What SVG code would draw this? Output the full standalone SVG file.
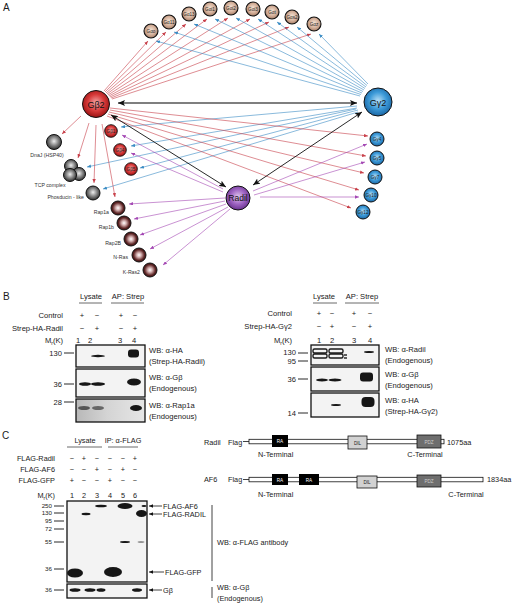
<svg xmlns="http://www.w3.org/2000/svg" width="514" height="605" viewBox="0 0 514 605">
<style>
text{font-family:"Liberation Sans",Arial,sans-serif;fill:#1a1a1a}
.pl{font-size:10px}
.t8{font-size:7.6px}
.t7{font-size:7.3px}
.mk{font-size:6.2px;text-anchor:end}
.nl{font-size:5.2px;fill:#333}
.in{font-size:4.6px;text-anchor:middle;fill:#222}
.red{stroke:#c8404a;stroke-width:0.6;marker-end:url(#ar)}
.blue{stroke:#3a8cc4;stroke-width:0.6;marker-end:url(#ab)}
.pur{stroke:#a448b4;stroke-width:0.6;marker-end:url(#ap)}
.blk{stroke:#111;stroke-width:0.9;marker-end:url(#ak);marker-start:url(#aks)}
.gry{stroke:#555;stroke-width:1.4;marker-end:url(#ak);marker-start:url(#aks)}
.ul{stroke:#444;stroke-width:0.8}
.tk{stroke:#111;stroke-width:0.9}
.blot{fill:#f3f3f3;stroke:#111;stroke-width:1.3}
.band{fill:#161616;filter:url(#soft)}
.dom{stroke:#111;stroke-width:0.8}
</style>
<defs>
<marker id="ar" markerWidth="4" markerHeight="3.4" refX="4" refY="1.7" orient="auto" markerUnits="userSpaceOnUse"><path d="M0,0L4,1.7L0,3.4z" fill="#c8404a"/></marker>
<marker id="ab" markerWidth="4" markerHeight="3.4" refX="4" refY="1.7" orient="auto" markerUnits="userSpaceOnUse"><path d="M0,0L4,1.7L0,3.4z" fill="#3a8cc4"/></marker>
<marker id="ap" markerWidth="4" markerHeight="3.4" refX="4" refY="1.7" orient="auto" markerUnits="userSpaceOnUse"><path d="M0,0L4,1.7L0,3.4z" fill="#a448b4"/></marker>
<marker id="ak" markerWidth="7" markerHeight="6" refX="7" refY="3" orient="auto" markerUnits="userSpaceOnUse"><path d="M0,0L7,3L0,6L1.5,3z" fill="#111"/></marker>
<marker id="aks" markerWidth="7" markerHeight="6" refX="7" refY="3" orient="auto-start-reverse" markerUnits="userSpaceOnUse"><path d="M0,0L7,3L0,6L1.5,3z" fill="#111"/></marker>
<marker id="ac" markerWidth="4" markerHeight="3.4" refX="4" refY="1.7" orient="auto" markerUnits="userSpaceOnUse"><path d="M0,0L4,1.7L0,3.4z" fill="#111"/></marker>
<radialGradient id="gRed" cx="50%" cy="45%" r="55%"><stop offset="0" stop-color="#f4a8a8"/><stop offset="0.55" stop-color="#d83a3a"/><stop offset="1" stop-color="#9a1212"/></radialGradient>
<radialGradient id="gBlue" cx="50%" cy="45%" r="55%"><stop offset="0" stop-color="#b6def6"/><stop offset="0.55" stop-color="#3c9ad8"/><stop offset="1" stop-color="#1b66a4"/></radialGradient>
<radialGradient id="gPur" cx="50%" cy="45%" r="55%"><stop offset="0" stop-color="#e2c8ee"/><stop offset="0.55" stop-color="#a066c4"/><stop offset="1" stop-color="#6a3390"/></radialGradient>
<radialGradient id="gTan" cx="50%" cy="45%" r="55%"><stop offset="0" stop-color="#f6e6d8"/><stop offset="0.6" stop-color="#d4b09a"/><stop offset="1" stop-color="#a47c66"/></radialGradient>
<radialGradient id="gGray" cx="50%" cy="45%" r="55%"><stop offset="0" stop-color="#eeeeee"/><stop offset="0.5" stop-color="#8a8a8a"/><stop offset="1" stop-color="#2c2c2c"/></radialGradient>
<radialGradient id="gRap" cx="50%" cy="50%" r="55%"><stop offset="0" stop-color="#ffffff"/><stop offset="0.3" stop-color="#d4b0b0"/><stop offset="0.7" stop-color="#5c2424"/><stop offset="1" stop-color="#3a1010"/></radialGradient>
<linearGradient id="gB3" x1="0" x2="1" y1="0" y2="0"><stop offset="0" stop-color="#b8b8b8"/><stop offset="0.45" stop-color="#d4d4d4"/><stop offset="1" stop-color="#e6e6e6"/></linearGradient>
<filter id="soft" x="-30%" y="-60%" width="160%" height="220%"><feGaussianBlur stdDeviation="0.5"/></filter>
</defs>
<rect width="514" height="605" fill="#fff"/>

<text class="pl" x="3" y="11">A</text>

<g id="connectors" fill="none">
<line class="red" x1="104" y1="91" x2="148" y2="41"/>
<line class="red" x1="105" y1="92" x2="166" y2="32"/>
<line class="red" x1="106" y1="93" x2="186" y2="24"/>
<line class="red" x1="107" y1="94" x2="207" y2="19"/>
<line class="red" x1="108" y1="95" x2="228" y2="18"/>
<line class="red" x1="109" y1="96" x2="250" y2="19"/>
<line class="red" x1="110" y1="97" x2="269" y2="22"/>
<line class="red" x1="111" y1="98" x2="289" y2="27"/>
<line class="red" x1="112" y1="99" x2="311" y2="34"/>
<line class="blue" x1="360" y1="96" x2="156" y2="41"/>
<line class="blue" x1="361" y1="94.5" x2="174" y2="32"/>
<line class="blue" x1="362" y1="93" x2="194" y2="24"/>
<line class="blue" x1="363" y1="91.5" x2="215" y2="19"/>
<line class="blue" x1="364" y1="90" x2="236" y2="18"/>
<line class="blue" x1="365" y1="88.5" x2="258" y2="19"/>
<line class="blue" x1="366" y1="87" x2="277" y2="22"/>
<line class="blue" x1="367" y1="85.5" x2="297" y2="27"/>
<line class="blue" x1="368" y1="84" x2="319" y2="34"/>
<line class="blue" x1="357" y1="106" x2="121" y2="127"/>
<line class="blue" x1="357" y1="108" x2="131" y2="146"/>
<line class="blue" x1="358" y1="110" x2="140" y2="168"/>
<line class="blue" x1="356" y1="109" x2="87" y2="167"/>
<line class="blue" x1="358" y1="112" x2="103" y2="189"/>
<line class="red" x1="110" y1="108" x2="368" y2="136"/>
<line class="red" x1="110" y1="110" x2="366" y2="156"/>
<line class="red" x1="109" y1="112" x2="364" y2="173"/>
<line class="red" x1="108" y1="114" x2="359" y2="190"/>
<line class="red" x1="107" y1="116" x2="351" y2="208"/>
<line class="red" x1="81" y1="116" x2="62" y2="134"/>
<line class="red" x1="89" y1="123" x2="78" y2="158"/>
<line class="red" x1="96" y1="125" x2="94" y2="183"/>
<line class="red" x1="102" y1="124" x2="115" y2="197"/>
<line class="pur" x1="223" y1="189" x2="122" y2="135"/>
<line class="pur" x1="223" y1="192" x2="131" y2="153"/>
<line class="pur" x1="225" y1="198" x2="129" y2="204"/>
<line class="pur" x1="225" y1="201" x2="134" y2="219"/>
<line class="pur" x1="226" y1="204" x2="140" y2="235"/>
<line class="pur" x1="228" y1="207" x2="150" y2="249"/>
<line class="pur" x1="230" y1="209" x2="163" y2="265"/>
<line class="pur" x1="253" y1="191" x2="367" y2="144"/>
<line class="pur" x1="254" y1="195" x2="365" y2="162"/>
<line class="pur" x1="260" y1="197" x2="359" y2="197"/>
<line class="gry" x1="118" y1="103" x2="357" y2="103"/>
<line class="blk" x1="111" y1="115" x2="226" y2="187"/>
<line class="blk" x1="253" y1="185" x2="362" y2="112"/>
</g>

<g id="node-Gao"><circle cx="151" cy="31" r="7" fill="url(#gTan)" stroke="#111" stroke-width="1.1"/><text class="in" x="151" y="32.6">Gαo</text></g>
<g id="node-Ga11"><circle cx="169" cy="22" r="7" fill="url(#gTan)" stroke="#111" stroke-width="1.1"/><text class="in" x="169" y="23.6">Gα11</text></g>
<g id="node-Ga13"><circle cx="189" cy="14" r="7" fill="url(#gTan)" stroke="#111" stroke-width="1.1"/><text class="in" x="189" y="15.6">Gα13</text></g>
<g id="node-Gai1"><circle cx="210" cy="9" r="7" fill="url(#gTan)" stroke="#111" stroke-width="1.1"/><text class="in" x="210" y="10.6">Gαi1</text></g>
<g id="node-Gai2"><circle cx="231" cy="8" r="7" fill="url(#gTan)" stroke="#111" stroke-width="1.1"/><text class="in" x="231" y="9.6">Gαi2</text></g>
<g id="node-Gai3"><circle cx="253" cy="9" r="7" fill="url(#gTan)" stroke="#111" stroke-width="1.1"/><text class="in" x="253" y="10.6">Gαi3</text></g>
<g id="node-Gat"><circle cx="272" cy="12" r="7" fill="url(#gTan)" stroke="#111" stroke-width="1.1"/><text class="in" x="272" y="13.6">Gαt</text></g>
<g id="node-Gas2"><circle cx="292" cy="17" r="7" fill="url(#gTan)" stroke="#111" stroke-width="1.1"/><text class="in" x="292" y="18.6">Gαs2</text></g>
<g id="node-Gaz"><circle cx="314" cy="24" r="7" fill="url(#gTan)" stroke="#111" stroke-width="1.1"/><text class="in" x="314" y="25.6">Gαz</text></g>

<g id="node-Gb2"><circle cx="96" cy="104" r="13.5" fill="url(#gRed)" stroke="#111" stroke-width="1"/><text x="96" y="107.5" text-anchor="middle" style="font-size:9px;fill:#111">Gβ2</text></g>
<g id="node-Gg2"><circle cx="378" cy="102" r="14" fill="url(#gBlue)" stroke="#111" stroke-width="1"/><text x="378" y="105.5" text-anchor="middle" style="font-size:9px;fill:#111">Gγ2</text></g>
<g id="node-Radil"><circle cx="238" cy="198" r="12" fill="url(#gPur)" stroke="#111" stroke-width="1"/><text x="238" y="201" text-anchor="middle" style="font-size:8.5px;fill:#111">Radil</text></g>

<g id="node-Gb1"><circle cx="111" cy="131" r="6.3" fill="url(#gRed)" stroke="#111" stroke-width="0.9"/><text class="in" x="111" y="132.6">Gβ1</text></g>
<g id="node-Gb4"><circle cx="120" cy="150" r="6.3" fill="url(#gRed)" stroke="#111" stroke-width="0.9"/><text class="in" x="120" y="151.6">Gβ4</text></g>
<g id="node-Gb5"><circle cx="131" cy="169" r="6.3" fill="url(#gRed)" stroke="#111" stroke-width="0.9"/><text class="in" x="131" y="170.6">Gβ5</text></g>

<g id="node-DnaJ"><circle cx="54" cy="142" r="7.5" fill="url(#gGray)" stroke="#111" stroke-width="1"/><text class="nl" x="47" y="157" text-anchor="middle">DnaJ (HSP40)</text></g>
<g id="node-TCP"><circle cx="71" cy="166" r="6.5" fill="url(#gGray)" stroke="#111" stroke-width="1"/><circle cx="79" cy="174" r="6.5" fill="url(#gGray)" stroke="#111" stroke-width="1"/><circle cx="70" cy="175" r="6.5" fill="url(#gGray)" stroke="#111" stroke-width="1"/><text class="nl" x="50" y="187" text-anchor="middle">TCP complex</text></g>
<g id="node-Phosducin"><circle cx="93" cy="193" r="7" fill="url(#gGray)" stroke="#111" stroke-width="1"/><text class="nl" x="84" y="199" text-anchor="end">Phosducin - like</text></g>

<g id="node-Rap1a"><circle cx="118" cy="208" r="7" fill="url(#gRap)" stroke="#111" stroke-width="1"/><text class="nl" x="109" y="214" text-anchor="end">Rap1a</text></g>
<g id="node-Rap1b"><circle cx="124" cy="223" r="7" fill="url(#gRap)" stroke="#111" stroke-width="1"/><text class="nl" x="114" y="229" text-anchor="end">Rap1b</text></g>
<g id="node-Rap2B"><circle cx="131" cy="239" r="7" fill="url(#gRap)" stroke="#111" stroke-width="1"/><text class="nl" x="121" y="245" text-anchor="end">Rap2B</text></g>
<g id="node-NRas"><circle cx="139" cy="255" r="7" fill="url(#gRap)" stroke="#111" stroke-width="1"/><text class="nl" x="128" y="259" text-anchor="end">N-Ras</text></g>
<g id="node-KRas2"><circle cx="150" cy="270" r="7" fill="url(#gRap)" stroke="#111" stroke-width="1"/><text class="nl" x="140" y="274" text-anchor="end">K-Ras2</text></g>

<g id="node-Gg4"><circle cx="377" cy="139" r="7" fill="url(#gBlue)" stroke="#111" stroke-width="1"/><text class="in" x="377" y="140.6">Gγ4</text></g>
<g id="node-Gg5"><circle cx="377" cy="158" r="7" fill="url(#gBlue)" stroke="#111" stroke-width="1"/><text class="in" x="377" y="159.6">Gγ5</text></g>
<g id="node-Gg7"><circle cx="375" cy="177" r="7" fill="url(#gBlue)" stroke="#111" stroke-width="1"/><text class="in" x="375" y="178.6">Gγ7</text></g>
<g id="node-Gg10"><circle cx="371" cy="195" r="7" fill="url(#gBlue)" stroke="#111" stroke-width="1"/><text class="in" x="371" y="196.6">Gγ10</text></g>
<g id="node-Gg12"><circle cx="363" cy="212" r="7" fill="url(#gBlue)" stroke="#111" stroke-width="1"/><text class="in" x="363" y="213.6">Gγ12</text></g>

<g id="panelB-left">
<text class="pl" x="3" y="300">B</text>
<text class="t8" x="91" y="299" text-anchor="middle">Lysate</text>
<line class="ul" x1="79" y1="303" x2="102" y2="303"/>
<text class="t8" x="128" y="299" text-anchor="middle">AP: Strep</text>
<line class="ul" x1="111" y1="303" x2="144" y2="303"/>
<text class="t8" x="63" y="318" text-anchor="end">Control</text>
<text class="t8" x="63" y="331" text-anchor="end">Strep-HA-Radil</text>
<text class="t8" x="63" y="343" text-anchor="end">M<tspan font-size="5" dy="1.5">r</tspan><tspan dy="-1.5">(K)</tspan></text>
<g class="t8" text-anchor="middle">
<text x="82" y="318">+</text><text x="97" y="318">−</text><text x="121" y="318">+</text><text x="135" y="318">−</text>
<text x="82" y="331">−</text><text x="97" y="331">+</text><text x="121" y="331">−</text><text x="135" y="331">+</text>
<text x="78" y="343">1</text><text x="90" y="343">2</text><text x="120" y="343">3</text><text x="134" y="343">4</text>
</g>
<rect class="blot" x="76" y="345" width="69" height="22"/>
<rect class="blot" x="76" y="369" width="69" height="28"/>
<rect x="76" y="399" width="69" height="23" fill="url(#gB3)" stroke="#111" stroke-width="1.3"/>
<text class="t8" x="62" y="356" text-anchor="end">130</text><line class="tk" x1="64" y1="353" x2="74" y2="353"/>
<text class="t8" x="62" y="387" text-anchor="end">36</text><line class="tk" x1="64" y1="384" x2="74" y2="384"/>
<text class="t8" x="62" y="405" text-anchor="end">28</text><line class="tk" x1="64" y1="402" x2="74" y2="402"/>
<ellipse class="band" cx="98" cy="356" rx="7" ry="1.2"/>
<rect class="band" x="128" y="349.5" width="11" height="8" rx="3"/>
<ellipse class="band" cx="85" cy="384" rx="6" ry="1.7"/>
<ellipse class="band" cx="98" cy="384" rx="7" ry="1.8"/>
<ellipse class="band" cx="134" cy="382" rx="7" ry="3.5"/>
<ellipse cx="84" cy="408" rx="6" ry="2" fill="#555" filter="url(#soft)"/>
<ellipse cx="98" cy="408" rx="6" ry="2" fill="#666" filter="url(#soft)"/>
<ellipse class="band" cx="136" cy="408" rx="6" ry="3"/>
<text class="t8" x="149" y="353">WB: α-HA</text>
<text class="t8" x="149" y="364">(Strep-HA-Radil)</text>
<text class="t8" x="149" y="380">WB: α-Gβ</text>
<text class="t8" x="149" y="391">(Endogenous)</text>
<text class="t8" x="149" y="408">WB: α-Rap1a</text>
<text class="t8" x="149" y="419">(Endogenous)</text>
</g>

<g id="panelB-right">
<text class="t8" x="324" y="299" text-anchor="middle">Lysate</text>
<line class="ul" x1="313" y1="303" x2="337" y2="303"/>
<text class="t8" x="362" y="299" text-anchor="middle">AP: Strep</text>
<line class="ul" x1="345" y1="303" x2="379" y2="303"/>
<text class="t8" x="292" y="316" text-anchor="end">Control</text>
<text class="t8" x="292" y="329" text-anchor="end">Strep-HA-Gγ2</text>
<text class="t8" x="292" y="343" text-anchor="end">M<tspan font-size="5" dy="1.5">r</tspan><tspan dy="-1.5">(K)</tspan></text>
<g class="t8" text-anchor="middle">
<text x="319" y="316">+</text><text x="332" y="316">−</text><text x="354" y="316">+</text><text x="370" y="316">−</text>
<text x="319" y="329">−</text><text x="332" y="329">+</text><text x="354" y="329">−</text><text x="370" y="329">+</text>
<text x="319" y="343">1</text><text x="332" y="343">2</text><text x="354" y="343">3</text><text x="370" y="343">4</text>
</g>
<rect class="blot" x="311" y="345" width="68" height="20"/>
<rect class="blot" x="311" y="367" width="68" height="24"/>
<rect class="blot" x="311" y="393" width="68" height="24"/>
<text class="t8" x="296" y="355" text-anchor="end">130</text><line class="tk" x1="298" y1="353" x2="308" y2="353"/>
<text class="t8" x="296" y="364" text-anchor="end">95</text><line class="tk" x1="298" y1="361" x2="308" y2="361"/>
<text class="t8" x="296" y="382" text-anchor="end">36</text><line class="tk" x1="298" y1="379" x2="308" y2="379"/>
<text class="t8" x="296" y="416" text-anchor="end">14</text><line class="tk" x1="298" y1="413" x2="308" y2="413"/>
<g fill="none" stroke="#1a1a1a" stroke-width="1.4" filter="url(#soft)">
<rect x="313" y="349" width="14" height="4" rx="1.5"/>
<rect x="313" y="354" width="14" height="4" rx="1.5"/>
<rect x="329" y="349" width="14" height="4" rx="1.5"/>
<rect x="329" y="354" width="14" height="4" rx="1.5"/>
<line x1="344" y1="355" x2="347" y2="355"/><line x1="344" y1="358" x2="347" y2="358"/>
</g>
<ellipse class="band" cx="369" cy="352" rx="5" ry="1"/>
<ellipse class="band" cx="322" cy="380" rx="6" ry="1.4"/>
<ellipse class="band" cx="335" cy="380" rx="6.5" ry="1.5"/>
<rect class="band" x="360" y="372.5" width="13" height="9" rx="3"/>
<ellipse class="band" cx="336" cy="405" rx="5" ry="1.1"/>
<rect class="band" x="361.5" y="397" width="13" height="10" rx="4"/>
<text class="t8" x="385" y="352">WB: α-Radil</text>
<text class="t8" x="385" y="363">(Endogenous)</text>
<text class="t8" x="385" y="377">WB: α-Gβ</text>
<text class="t8" x="385" y="388">(Endogenous)</text>
<text class="t8" x="385" y="403">WB: α-HA</text>
<text class="t8" x="385" y="414">(Strep-HA-Gγ2)</text>
</g>

<g id="panelC-blot">
<text class="pl" x="2" y="439">C</text>
<text class="t7" x="85" y="443" text-anchor="middle">Lysate</text>
<line class="ul" x1="67" y1="447" x2="102" y2="447"/>
<text class="t7" x="123" y="443" text-anchor="middle">IP: α-FLAG</text>
<line class="ul" x1="108" y1="447" x2="138" y2="447"/>
<text class="t7" x="55" y="461" text-anchor="end">FLAG-Radil</text>
<text class="t7" x="55" y="472" text-anchor="end">FLAG-AF6</text>
<text class="t7" x="55" y="483" text-anchor="end">FLAG-GFP</text>
<text class="t7" x="55" y="498" text-anchor="end">M<tspan font-size="5" dy="1.5">r</tspan><tspan dy="-1.5">(K)</tspan></text>
<g class="t7" text-anchor="middle">
<text x="72" y="461">−</text><text x="84" y="461">+</text><text x="97" y="461">−</text><text x="110" y="461">−</text><text x="123" y="461">−</text><text x="135" y="461">+</text>
<text x="72" y="472">−</text><text x="84" y="472">−</text><text x="97" y="472">+</text><text x="110" y="472">−</text><text x="123" y="472">+</text><text x="135" y="472">−</text>
<text x="72" y="483">+</text><text x="84" y="483">−</text><text x="97" y="483">−</text><text x="110" y="483">+</text><text x="123" y="483">−</text><text x="135" y="483">−</text>
<text x="72" y="498">1</text><text x="84" y="498">2</text><text x="97" y="498">3</text><text x="110" y="498">4</text><text x="123" y="498">5</text><text x="135" y="498">6</text>
</g>
<rect class="blot" x="67" y="501" width="80" height="81"/>
<rect class="blot" x="67" y="584" width="80" height="14"/>
<text class="mk" x="52" y="508.2">250</text><line class="tk" x1="54" y1="506" x2="64" y2="506"/>
<text class="mk" x="52" y="515.4">130</text><line class="tk" x1="54" y1="513" x2="64" y2="513"/>
<text class="mk" x="52" y="523.2">95</text><line class="tk" x1="54" y1="521" x2="64" y2="521"/>
<text class="mk" x="52" y="531.2">72</text><line class="tk" x1="54" y1="529" x2="64" y2="529"/>
<text class="mk" x="52" y="544.2">55</text><line class="tk" x1="54" y1="542" x2="64" y2="542"/>
<text class="mk" x="52" y="571.2">36</text><line class="tk" x1="54" y1="569" x2="64" y2="569"/>
<text class="mk" x="52" y="592.2">36</text><line class="tk" x1="54" y1="590" x2="64" y2="590"/>
<ellipse class="band" cx="86" cy="514" rx="4.5" ry="1.2"/>
<ellipse class="band" cx="101" cy="506" rx="6" ry="1.3"/>
<ellipse class="band" cx="125" cy="506" rx="7.5" ry="3"/>
<ellipse class="band" cx="144" cy="506" rx="2.5" ry="1"/>
<ellipse class="band" cx="141.5" cy="513.5" rx="5.5" ry="3.5"/>
<ellipse class="band" cx="125" cy="542" rx="5" ry="1"/>
<ellipse cx="141" cy="542" rx="3.5" ry="0.8" fill="#777" filter="url(#soft)"/>
<ellipse class="band" cx="75" cy="573" rx="8" ry="4.5"/>
<ellipse class="band" cx="113" cy="572" rx="9" ry="5"/>
<ellipse class="band" cx="75" cy="590" rx="5.5" ry="1.8"/>
<ellipse class="band" cx="90" cy="590" rx="5.5" ry="1.8"/>
<ellipse class="band" cx="101" cy="590" rx="4.5" ry="1.8"/>
<ellipse class="band" cx="137" cy="590" rx="5" ry="1.8"/>
<g stroke="#111" stroke-width="0.8" marker-end="url(#ac)">
<line x1="162" y1="506" x2="149" y2="506"/>
<line x1="162" y1="514" x2="149" y2="514"/>
<line x1="164" y1="572" x2="149" y2="572"/>
<line x1="162" y1="590" x2="149" y2="590"/>
</g>
<text class="t7" x="163" y="508.5">FLAG-AF6</text>
<text class="t7" x="163" y="516.5">FLAG-RADIL</text>
<text class="t7" x="165" y="574.5">FLAG-GFP</text>
<text class="t7" x="163" y="592.5">Gβ</text>
<line x1="212" y1="505" x2="212" y2="581" stroke="#111" stroke-width="0.8"/>
<line x1="212" y1="587" x2="212" y2="598" stroke="#111" stroke-width="0.8"/>
<text class="t7" x="217" y="545">WB: α-FLAG antibody</text>
<text class="t7" x="217" y="590">WB: α-Gβ</text>
<text class="t7" x="217" y="601">(Endogenous)</text>
</g>

<g id="domain-Radil">
<text class="t7" x="204" y="445">Radil</text>
<text class="t7" x="228" y="445">Flag</text>
<line class="dom" x1="243" y1="441.5" x2="249" y2="441.5"/>
<rect x="249" y="439.3" width="195" height="4.5" fill="#fff" class="dom"/>
<rect x="272" y="435" width="16" height="12" fill="#000"/>
<text x="280" y="443" text-anchor="middle" style="font-size:4.6px;fill:#fff">RA</text>
<rect x="348" y="436" width="19" height="13" fill="#d2d2d2" class="dom"/>
<text x="357.5" y="444.5" text-anchor="middle" style="font-size:4.6px;fill:#222">DIL</text>
<rect x="417" y="435" width="24" height="13" fill="#6e6e6e" class="dom"/>
<text x="429" y="443.5" text-anchor="middle" style="font-size:4.6px;fill:#ccc">PDZ</text>
<text class="t7" x="447" y="445">1075aa</text>
<text class="t7" x="258" y="457">N-Terminal</text>
<text class="t7" x="425" y="457" text-anchor="middle">C-Terminal</text>
</g>

<g id="domain-AF6">
<text class="t7" x="204" y="482">AF6</text>
<text class="t7" x="228" y="482">Flag</text>
<line class="dom" x1="243" y1="479.5" x2="249" y2="479.5"/>
<rect x="249" y="477.3" width="234" height="4.5" fill="#fff" class="dom"/>
<rect x="272" y="474" width="16" height="11" fill="#000"/>
<text x="280" y="481.5" text-anchor="middle" style="font-size:4.6px;fill:#fff">RA</text>
<rect x="299" y="474" width="20" height="11" fill="#000"/>
<text x="309" y="481.5" text-anchor="middle" style="font-size:4.6px;fill:#fff">RA</text>
<rect x="357" y="476" width="20" height="12" fill="#d2d2d2" class="dom"/>
<text x="367" y="484" text-anchor="middle" style="font-size:4.6px;fill:#222">DIL</text>
<rect x="417" y="475" width="24" height="12" fill="#6e6e6e" class="dom"/>
<text x="429" y="483" text-anchor="middle" style="font-size:4.6px;fill:#ccc">PDZ</text>
<text class="t7" x="487" y="482">1834aa</text>
<text class="t7" x="258" y="497">N-Terminal</text>
<text class="t7" x="466" y="497" text-anchor="middle">C-Terminal</text>
</g>
</svg>
